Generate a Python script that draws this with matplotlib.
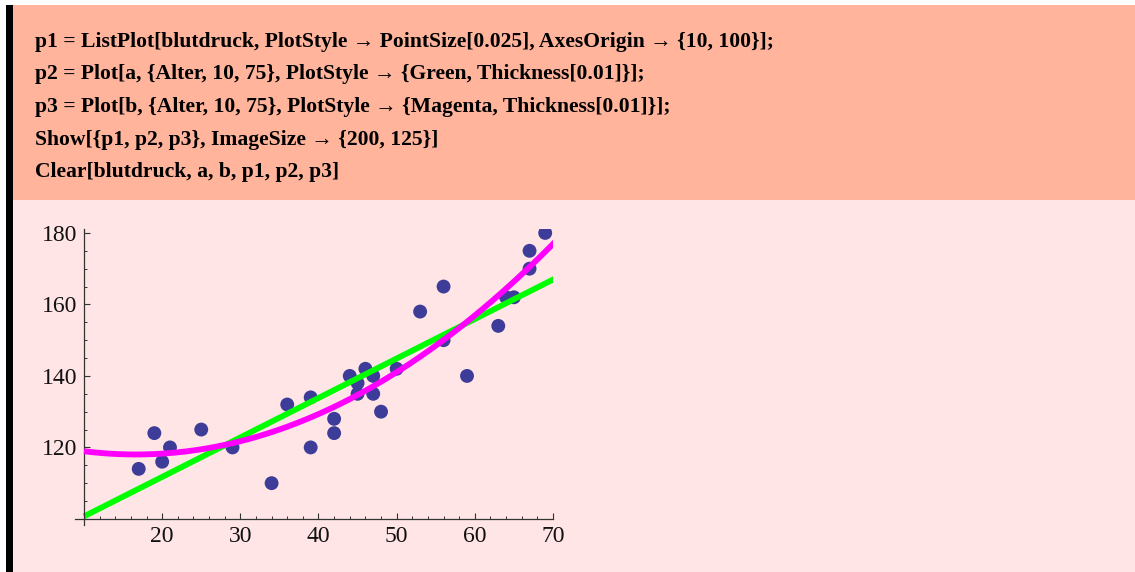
import matplotlib

matplotlib.use("Agg")

import numpy as np
import matplotlib.pyplot as plt
from matplotlib.patches import Rectangle
from matplotlib.ticker import MultipleLocator

# Blutdruck nach Alter
alter = [17, 19, 20, 21, 25, 29, 34, 36, 39, 39, 42, 42, 44, 45, 45, 46, 47, 47,
         48, 50, 53, 56, 56, 59, 63, 64, 65, 67, 67, 69]
druck = [114, 124, 116, 120, 125, 120, 110, 132, 134, 120, 128, 124, 140, 138, 135,
         142, 140, 135, 130, 142, 158, 165, 150, 140, 154, 162, 162, 170, 175, 180]

code_lines = [
    "p1 = ListPlot[blutdruck, PlotStyle \u2192 PointSize[0.025], AxesOrigin \u2192 {10, 100}];",
    "p2 = Plot[a, {Alter, 10, 75}, PlotStyle \u2192 {Green, Thickness[0.01]}];",
    "p3 = Plot[b, {Alter, 10, 75}, PlotStyle \u2192 {Magenta, Thickness[0.01]}];",
    "Show[{p1, p2, p3}, ImageSize \u2192 {200, 125}]",
    "Clear[blutdruck, a, b, p1, p2, p3]",
]

W, H = 1135, 572
SERIF = ["Liberation Serif", "DejaVu Serif"]

fig = plt.figure(figsize=(W / 100, H / 100), dpi=100, facecolor="white")

# notebook cell backgrounds
bg = fig.add_axes([0, 0, 1, 1])
bg.set_xlim(0, W)
bg.set_ylim(H, 0)
bg.axis("off")
bg.add_patch(Rectangle((13, 5), W - 13, 195, color="#FFB49B", lw=0))
bg.add_patch(Rectangle((13, 200), W - 13, H - 200, color="#FFE5E5", lw=0))
bg.add_patch(Rectangle((6, 5), 7, H - 5, color="#000000", lw=0))

# input cell
for i, line in enumerate(code_lines):
    bg.text(35, 47 + i * 32.5, line, family=SERIF, fontsize=15.6,
            fontweight="bold", va="baseline", ha="left", color="black")

# plot region (pixels)
x0, x1 = 75, 553
y_top, y_bot = 229, 525
ax = fig.add_axes([x0 / W, (H - y_bot) / H, (x1 - x0) / W, (y_bot - y_top) / H])
ax.patch.set_alpha(0)
ax.set_xlim(8.85, 70)
ax.set_ylim(98.3, 181.1)

for side in ("top", "right"):
    ax.spines[side].set_visible(False)
ax.spines["left"].set_position(("data", 10))
ax.spines["bottom"].set_position(("data", 100))
for side in ("left", "bottom"):
    ax.spines[side].set_color("#333333")
    ax.spines[side].set_linewidth(0.9)

ax.xaxis.set_minor_locator(MultipleLocator(2))
ax.yaxis.set_minor_locator(MultipleLocator(5))
ax.set_xticks([20, 30, 40, 50, 60, 70])
ax.set_yticks([120, 140, 160, 180])
ax.tick_params(which="major", direction="in", length=4.5, width=0.8, color="#333333",
               labelsize=17, pad=5)
ax.tick_params(which="minor", direction="in", length=2.5, width=0.7, color="#333333")
for lab in ax.get_xticklabels() + ax.get_yticklabels():
    lab.set_family(SERIF)
    lab.set_color("#111111")

# linear and quadratic fits
xs = np.linspace(10, 75, 300)
a = np.polyfit(alter, druck, 1)
b = np.polyfit(alter, druck, 2)
ax.plot(xs, np.polyval(a, xs), color="#00FF00", lw=4.2, solid_capstyle="butt", zorder=2)
ax.plot(xs, np.polyval(b, xs), color="#FF00FF", lw=4.2, solid_capstyle="butt", zorder=3)
ax.scatter(alter, druck, s=100, color="#3D3D99", edgecolors="none", zorder=1)

fig.savefig("out.png", dpi=100, facecolor=fig.get_facecolor())
